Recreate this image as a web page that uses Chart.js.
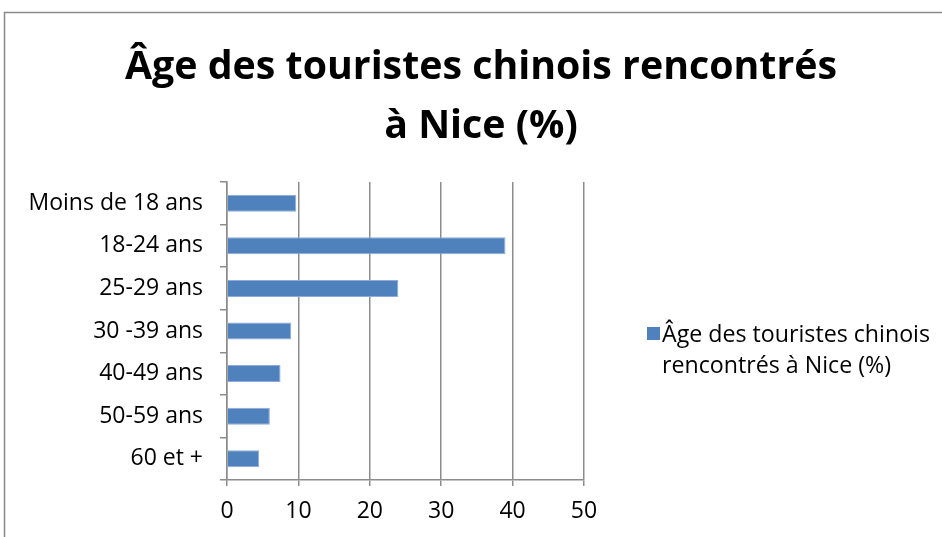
<!DOCTYPE html>
<html>
<head>
<meta charset="utf-8">
<script src="https://cdn.jsdelivr.net/npm/chart.js@4/dist/chart.umd.min.js"></script>
<style>
  body { margin: 0; background: #fff; }
  canvas { display: block; }
</style>
</head>
<body>
<canvas id="chart" width="942" height="537"></canvas>
<script>
const categories = ['Moins de 18 ans', '18-24 ans', '25-29 ans', '30 -39 ans', '40-49 ans', '50-59 ans', '60 et +'];
const values = [9.7, 39, 24, 9, 7.5, 6, 4.5];
const xTicks = [0, 10, 20, 30, 40, 50];
const titleLines = ['Âge des touristes chinois rencontrés', 'à Nice (%)'];
const legendLines = ['Âge des touristes chinois', 'rencontrés à Nice (%)'];

const FONT = '"Open Sans", sans-serif';
const gridColor = '#8c8c8c';

// shrink/grow a font so the first line has the width seen in the original
function fitFont(ctx, weight, text, width) {
  ctx.font = weight + ' 40px ' + FONT;
  const size = 40 * width / ctx.measureText(text).width;
  ctx.font = weight + ' ' + size.toFixed(1) + 'px ' + FONT;
}

// title, legend and outer frame drawn by hand so the plot area stays where the original has it
const decor = {
  id: 'decor',
  afterDraw(chart) {
    const ctx = chart.ctx;
    ctx.save();
    ctx.strokeStyle = '#8a8a8a';
    ctx.lineWidth = 1.5;
    ctx.beginPath();
    ctx.moveTo(4.5, 537);
    ctx.lineTo(4.5, 12.5);
    ctx.lineTo(942, 12.5);
    ctx.stroke();

    ctx.fillStyle = '#000';
    ctx.textAlign = 'center';
    ctx.textBaseline = 'middle';
    fitFont(ctx, 'bold', titleLines[0], 712);
    ctx.fillText(titleLines[0], 481, 68);
    ctx.fillText(titleLines[1], 481, 127);

    ctx.fillStyle = '#4F81BD';
    ctx.fillRect(647, 327, 13, 13);
    ctx.fillStyle = '#000';
    ctx.textAlign = 'left';
    fitFont(ctx, 'normal', legendLines[0], 268);
    ctx.fillText(legendLines[0], 662, 335);
    ctx.fillText(legendLines[1], 662, 366);
    ctx.restore();
  }
};

new Chart(document.getElementById('chart'), {
  type: 'bar',
  data: {
    labels: categories,
    datasets: [{
      label: legendLines.join(' '),
      data: values,
      backgroundColor: '#4F81BD',
      borderColor: '#8FAADC',
      borderWidth: 1,
      categoryPercentage: 1,
      barPercentage: 0.4
    }]
  },
  options: {
    indexAxis: 'y',
    responsive: false,
    animation: false,
    layout: { padding: { left: 0, right: 358, top: 182, bottom: 0 } },
    plugins: {
      legend: { display: false },
      title: { display: false },
      tooltip: { enabled: false }
    },
    scales: {
      x: {
        min: 0,
        max: 50,
        afterBuildTicks: s => { s.ticks = xTicks.map(v => ({ value: v })); },
        afterFit: s => { s.height = 57; },
        grid: { color: gridColor, lineWidth: 1.5, tickLength: 6 },
        border: { color: gridColor, width: 1.5 },
        ticks: { color: '#000', font: { family: FONT, size: 23 }, padding: 12 }
      },
      y: {
        afterFit: s => { s.width = 227; },
        grid: { offset: true, drawOnChartArea: false, color: gridColor, lineWidth: 1.5, tickLength: 7 },
        border: { color: gridColor, width: 1.5 },
        ticks: { color: '#000', font: { family: FONT, size: 23 }, padding: 17 }
      }
    }
  },
  plugins: [decor]
});
</script>
</body>
</html>
